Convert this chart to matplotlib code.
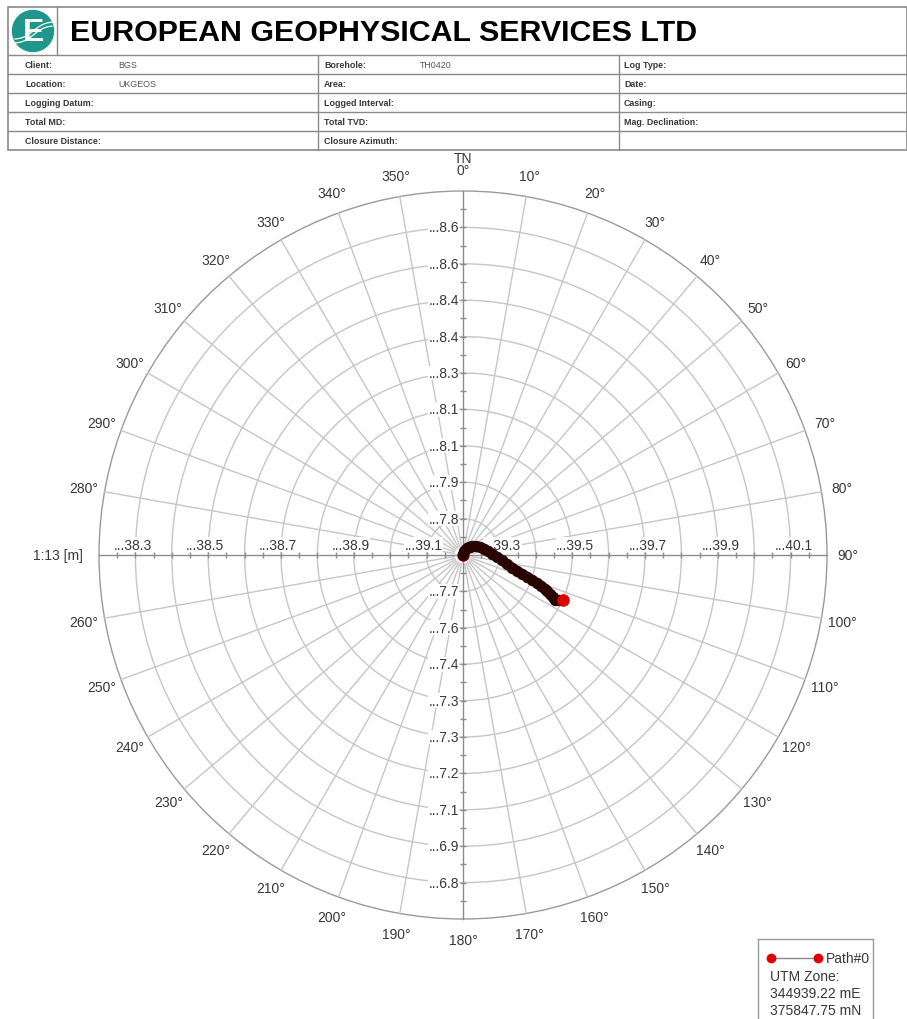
import numpy as np
import matplotlib.pyplot as plt
from matplotlib.patches import Circle, Rectangle

plt.rcParams['font.family'] = ['Liberation Sans', 'DejaVu Sans']

# header fields
company = 'EUROPEAN GEOPHYSICAL SERVICES LTD'
left_labels = ['Client:', 'Location:', 'Logging Datum:', 'Total MD:', 'Closure Distance:']
left_values = ['BGS', 'UKGEOS', '', '', '']
mid_labels = ['Borehole:', 'Area:', 'Logged Interval:', 'Total TVD:', 'Closure Azimuth:']
mid_values = ['TH0420', '', '', '', '']
right_labels = ['Log Type:', 'Date:', 'Casing:', 'Mag. Declination:', '']

# well path, east / north offsets from the collar (m)
path_east = [0.0, 0.004, 0.011, 0.018, 0.025, 0.036, 0.047, 0.058, 0.069, 0.081,
             0.093, 0.107, 0.121, 0.135, 0.148, 0.162, 0.176, 0.190, 0.203, 0.214,
             0.225, 0.232, 0.239, 0.246, 0.253, 0.264, 0.275]
path_north = [0.0, 0.011, 0.019, 0.023, 0.025, 0.024, 0.022, 0.017, 0.011, 0.003,
              -0.005, -0.015, -0.025, -0.035, -0.044, -0.052, -0.060, -0.069, -0.077, -0.085,
              -0.093, -0.100, -0.107, -0.116, -0.124, -0.124, -0.124]

# grid
ring_step = 0.1
n_rings = 10
tick_step = 0.05
azimuths = np.arange(0, 360, 10)

# axis labels (ring number, text)
east_rings = [1, 3, 5, 7, 9]
east_left = ['...39.1', '...38.9', '...38.7', '...38.5', '...38.3']
east_right = ['...39.3', '...39.5', '...39.7', '...39.9', '...40.1']
north_rings = [1, 2, 3, 4, 5, 6, 7, 8, 9]
north_up = ['...7.8', '...7.9', '...8.1', '...8.1', '...8.3', '...8.4', '...8.4', '...8.6', '...8.6']
north_down = ['...7.7', '...7.6', '...7.4', '...7.3', '...7.3', '...7.2', '...7.1', '...6.9', '...6.8']

scale_label = '1:13 [m]'
legend_name = 'Path#0'
utm_lines = ['UTM Zone:', '344939.22 mE', '375847.75 mN']

W, H = 907, 1020
cx, cy, ppm = 463, 556, 364.0   # plot centre in px, px per metre

fig = plt.figure(figsize=(W / 100, H / 100), dpi=100)
fig.patch.set_facecolor('white')

ax = fig.add_axes([0, 0, 1, 1])
ax.set_xlim(-cx / ppm, (W - cx) / ppm)
ax.set_ylim(-(H - cy) / ppm, cy / ppm)
ax.set_aspect('equal')
ax.axis('off')

R = n_rings * ring_step
grid_col = '#c6c6c6'
txt_col = '#383838'

# rings
for k in range(1, n_rings + 1):
    ec = '#9a9a9a' if k == n_rings else grid_col
    ax.add_patch(Circle((0, 0), k * ring_step, fill=False, ec=ec, lw=1.0, zorder=1))

# spokes
r0 = 0.025
for az in azimuths:
    if az % 90 == 0:
        continue
    t = np.radians(az)
    ax.plot([r0 * np.sin(t), R * np.sin(t)], [r0 * np.cos(t), R * np.cos(t)],
            color=grid_col, lw=1.0, zorder=1)

# main axes and ticks
ax.plot([-R, R], [0, 0], color='#8c8c8c', lw=1.0, zorder=2)
ax.plot([0, 0], [-R, R], color='#8c8c8c', lw=1.0, zorder=2)
ticks = np.arange(tick_step, R, tick_step)
tl = 0.008
ax.vlines(np.concatenate([ticks, -ticks]), -tl, tl, color='#8c8c8c', lw=1.0, zorder=2)
ax.hlines(np.concatenate([ticks, -ticks]), -tl, tl, color='#8c8c8c', lw=1.0, zorder=2)

lab_kw = dict(fontsize=10, color=txt_col, zorder=4,
              bbox=dict(facecolor='white', edgecolor='none', pad=0.3))
for k, a, b in zip(east_rings, east_left, east_right):
    ax.text(-k * ring_step - 0.008, 0.009, a, ha='center', va='bottom', **lab_kw)
    ax.text(k * ring_step + 0.008, 0.009, b, ha='center', va='bottom', **lab_kw)
for k, a, b in zip(north_rings, north_up, north_down):
    ax.text(-0.011, k * ring_step, a, ha='right', va='center', **lab_kw)
    ax.text(-0.011, -k * ring_step, b, ha='right', va='center', **lab_kw)

# azimuth labels
r_lab = 1.057
for az in azimuths:
    t = np.radians(az)
    x, y = r_lab * np.sin(t), r_lab * np.cos(t)
    if az == 270:
        ax.text(-1.113, 0, scale_label, ha='center', va='center', fontsize=10, color=txt_col)
        continue
    ax.text(x, y, f'{az}\u00b0', ha='center', va='center', fontsize=10, color=txt_col)
ax.text(0, 1.09, 'TN', ha='center', va='center', fontsize=10, color=txt_col)

# well path
ax.plot(path_east[0], path_north[0], 'o', color='#e00000', ms=8, zorder=5)
ax.plot(path_east, path_north, '-', color='#2a0303', lw=7.2,
        solid_capstyle='round', solid_joinstyle='round', zorder=6)
ax.plot(path_east, path_north, 'o', color='#2a0303', ms=7.2, zorder=6)
ax.plot(path_east[-1], path_north[-1], 'o', color='#e00000', ms=8, zorder=7)

# header and legend, drawn in pixel units
hax = fig.add_axes([0, 0, 1, 1], zorder=5)
hax.set_xlim(0, W)
hax.set_ylim(H, 0)
hax.axis('off')
hax.patch.set_alpha(0)

line_col = '#8a8a8a'
hax.add_patch(Rectangle((8, 8), W - 8, 143, fill=False, ec=line_col, lw=1.2))
hax.plot([57, 57], [8, 56], color=line_col, lw=1.0)
row_y = [56, 75, 94, 113, 132, 151]
for y in row_y[:-1]:
    hax.plot([8, W], [y, y], color=line_col, lw=1.0)
for x in [318, 619]:
    hax.plot([x, x], [56, 151], color=line_col, lw=1.0)

# logo
hax.add_patch(Circle((33, 32), 20.5, color='#1e968a'))
hax.text(34, 33, 'E', ha='center', va='center', fontsize=23, weight='bold', color='white')
sx = np.linspace(15, 52, 30)
hax.plot(sx, 40 - (sx - 15) * 0.45 + 2 * np.sin((sx - 15) / 6), color='white', lw=0.9)
hax.plot(sx, 44 - (sx - 15) * 0.45 + 2 * np.sin((sx - 15) / 6), color='white', lw=0.9)

title = hax.text(70, 33, company, ha='left', va='center', fontsize=24, weight='bold',
                 color='black', family=['Liberation Sans Narrow', 'Liberation Sans'])
fig.canvas.draw()
w = title.get_window_extent().width
title.set_fontsize(24 * 627 / w)

cell_kw = dict(fontsize=6.4, va='center')
for i in range(5):
    yc = (row_y[i] + row_y[i + 1]) / 2
    hax.text(25, yc, left_labels[i], weight='bold', color=txt_col, **cell_kw)
    hax.text(118, yc, left_values[i], color='#555555', **cell_kw)
    hax.text(324, yc, mid_labels[i], weight='bold', color=txt_col, **cell_kw)
    hax.text(420, yc, mid_values[i], color='#555555', **cell_kw)
    hax.text(624, yc, right_labels[i], weight='bold', color=txt_col, **cell_kw)

# legend box
hax.add_patch(Rectangle((758, 940), 115, 82, fill=False, ec='#999999', lw=1.0))
hax.plot([771, 818], [959, 959], '-', color='#888888', lw=1.0)
hax.plot([771, 818], [959, 959], 'o', color='#e00000', ms=6)
hax.text(826, 959, legend_name, ha='left', va='center', fontsize=10, color=txt_col)
for i, s in enumerate(utm_lines):
    hax.text(770, 977 + i * 17, s, ha='left', va='center', fontsize=10, color=txt_col)

fig.savefig('out.png', dpi=100)
